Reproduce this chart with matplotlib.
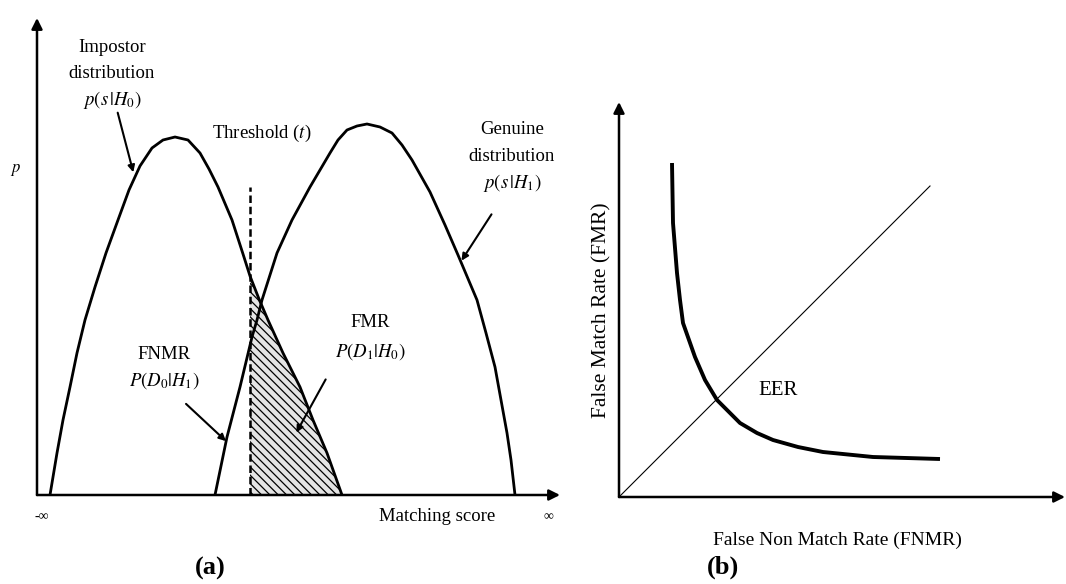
import matplotlib
matplotlib.use("Agg")
import matplotlib.pyplot as plt
import numpy as np

plt.rcParams['font.family'] = ['Liberation Serif', 'DejaVu Serif']
plt.rcParams['mathtext.fontset'] = 'stix'
plt.rcParams['hatch.linewidth'] = 0.9

# (a) score distributions
impostor_score = np.array([1.3, 2.0, 2.6, 3.3, 4.0, 4.8, 5.8, 6.9, 8.1, 9.2, 10.3, 11.5, 12.6, 13.8,
                           15.1, 16.3, 17.2, 18.1, 19.5, 20.6, 21.3, 22.2, 23.1, 24.6, 26.3, 27.6,
                           29.0, 30.5])
impostor_dens = np.array([0, 4.2, 7.5, 10.8, 14.2, 17.5, 20.8, 24.2, 27.5, 30.5, 32.9, 34.7, 35.5, 35.8,
                          35.5, 34.2, 32.6, 30.8, 27.5, 24.1, 21.9, 19.6, 17.5, 14.2, 10.8, 7.5,
                          4.2, 0])
genuine_score = np.array([17.8, 19.0, 20.3, 21.5, 22.0, 22.5, 24.0, 25.5, 27.3, 29.3, 30.1, 31.0,
                          32.0, 33.0, 34.3, 35.5, 36.5, 37.5, 39.3, 40.8, 42.1, 44.0, 44.9, 45.8,
                          46.4, 47.0, 47.4, 47.8])
genuine_dens = np.array([0, 5.8, 10.8, 15.8, 17.5, 19.5, 24.2, 27.5, 30.8, 34.2, 35.5, 36.5,
                         36.9, 37.1, 36.8, 36.2, 35.0, 33.5, 30.3, 27.0, 24.0, 19.5, 16.2, 12.8,
                         9.5, 6.2, 3.5, 0])
threshold = 21.3
threshold_top = 30.8

# (b) FMR vs FNMR curve
fnmr = np.array([5.3, 5.4, 5.8, 6.1, 6.4, 7.6, 8.6, 9.8, 12.1, 13.8, 15.4, 17.9, 20.4, 25.4, 32.1])
fmr = np.array([33.4, 27.4, 22.4, 19.7, 17.4, 14.0, 11.7, 9.7, 7.4, 6.4, 5.7, 5.0, 4.5, 4.0, 3.8])
diag = np.array([0, 31.1])

fig = plt.figure(figsize=(10.66, 5.84), dpi=100)
ax_a = fig.add_axes([0.03471, 0.15240, 0.49062, 0.81678])
ax_b = fig.add_axes([0.58068, 0.14897, 0.41932, 0.67637])

arrow_kw = dict(arrowstyle='-|>', lw=1.8, color='k', mutation_scale=16, shrinkA=0, shrinkB=0)
small_arrow = dict(arrowstyle='-|>', lw=1.5, color='k', mutation_scale=10)

# ---------- panel (a) ----------
ax = ax_a
ax.set_xlim(0, 52.3)
ax.set_ylim(0, 47.7)
ax.axis('off')
ax.annotate('', xy=(0, 47.7), xytext=(0, 0), arrowprops=arrow_kw, annotation_clip=False)
ax.annotate('', xy=(52.3, 0), xytext=(0, 0), arrowprops=arrow_kw, annotation_clip=False)

# hatched FMR area: under the impostor curve, right of the threshold
mask = impostor_score > threshold
fill_x = np.concatenate([[threshold], impostor_score[mask]])
fill_y = np.concatenate([[np.interp(threshold, impostor_score, impostor_dens)], impostor_dens[mask]])
ax.fill_between(fill_x, fill_y, 0, facecolor='#e4e4e4', edgecolor='k', hatch='\\\\\\\\', lw=0)

ax.plot(impostor_score, impostor_dens, color='k', lw=2.0, solid_joinstyle='round')
ax.plot(genuine_score, genuine_dens, color='k', lw=2.0, solid_joinstyle='round')
ax.plot([threshold, threshold], [0, threshold_top], color='k', lw=1.8, ls=(0, (3, 1.5)))

fs = 13.5
ax.text(7.5, 44.7, 'Impostor', fontsize=fs, ha='center', va='center')
ax.text(7.5, 42.1, 'distribution', fontsize=fs, ha='center', va='center')
ax.text(7.5, 39.5, r'$p(s\,|H_0)$', fontsize=fs, ha='center', va='center')
ax.annotate('', xy=(9.7, 32.0), xytext=(8.0, 38.5), arrowprops=small_arrow)

ax.text(22.5, 36.2, r'Threshold ($t$)', fontsize=fs, ha='center', va='center')

ax.text(47.5, 36.5, 'Genuine', fontsize=fs, ha='center', va='center', clip_on=False)
ax.text(47.5, 33.8, 'distribution', fontsize=fs, ha='center', va='center', clip_on=False)
ax.text(47.5, 31.2, r'$p(s\,|H_1)$', fontsize=fs, ha='center', va='center', clip_on=False)
ax.annotate('', xy=(42.3, 23.2), xytext=(45.6, 28.3), arrowprops=small_arrow)

ax.text(12.7, 14.0, 'FNMR', fontsize=fs, ha='center', va='center')
ax.text(12.7, 11.4, r'$P(D_0|H_1)$', fontsize=fs, ha='center', va='center')
ax.annotate('', xy=(19.1, 5.2), xytext=(14.7, 9.3), arrowprops=small_arrow)

ax.text(33.3, 17.2, 'FMR', fontsize=fs, ha='center', va='center')
ax.text(33.3, 14.3, r'$P(D_1|H_0)$', fontsize=fs, ha='center', va='center')
ax.annotate('', xy=(25.8, 6.0), xytext=(29.0, 11.8), arrowprops=small_arrow)

ax.text(0.5, -2.2, '-∞', fontsize=10, ha='center', va='center', clip_on=False)
ax.text(51.1, -2.2, '∞', fontsize=10, ha='center', va='center', clip_on=False)
ax.text(40.0, -2.2, 'Matching score', fontsize=fs, ha='center', va='center', clip_on=False)
ax.text(-2.1, 32.5, r'$p$', fontsize=12, ha='center', va='center', clip_on=False)
ax.text(17.3, -7.3, '(a)', fontsize=19, fontweight='bold', ha='center', va='center',
        clip_on=False)

# ---------- panel (b) ----------
ax = ax_b
ax.set_xlim(0, 44.7)
ax.set_ylim(0, 39.5)
ax.axis('off')
ax.annotate('', xy=(0, 39.5), xytext=(0, 0), arrowprops=arrow_kw, annotation_clip=False)
ax.annotate('', xy=(44.6, 0), xytext=(0, 0), arrowprops=arrow_kw, annotation_clip=False)

ax.plot(diag, diag, color='k', lw=0.8)
ax.plot(fnmr, fmr, color='k', lw=2.8, solid_capstyle='butt', solid_joinstyle='round')

ax.text(15.9, 10.7, 'EER', fontsize=15, ha='center', va='center')
ax.text(-1.7, 18.7, 'False Match Rate (FMR)', fontsize=15.5, rotation=90,
        ha='center', va='center', clip_on=False)
ax.text(21.8, -4.3, 'False Non Match Rate (FNMR)', fontsize=14, ha='center',
        va='center', clip_on=False)
ax.text(10.4, -7.0, '(b)', fontsize=19, fontweight='bold', ha='center', va='center',
        clip_on=False)

fig.savefig('out.png', dpi=100)
